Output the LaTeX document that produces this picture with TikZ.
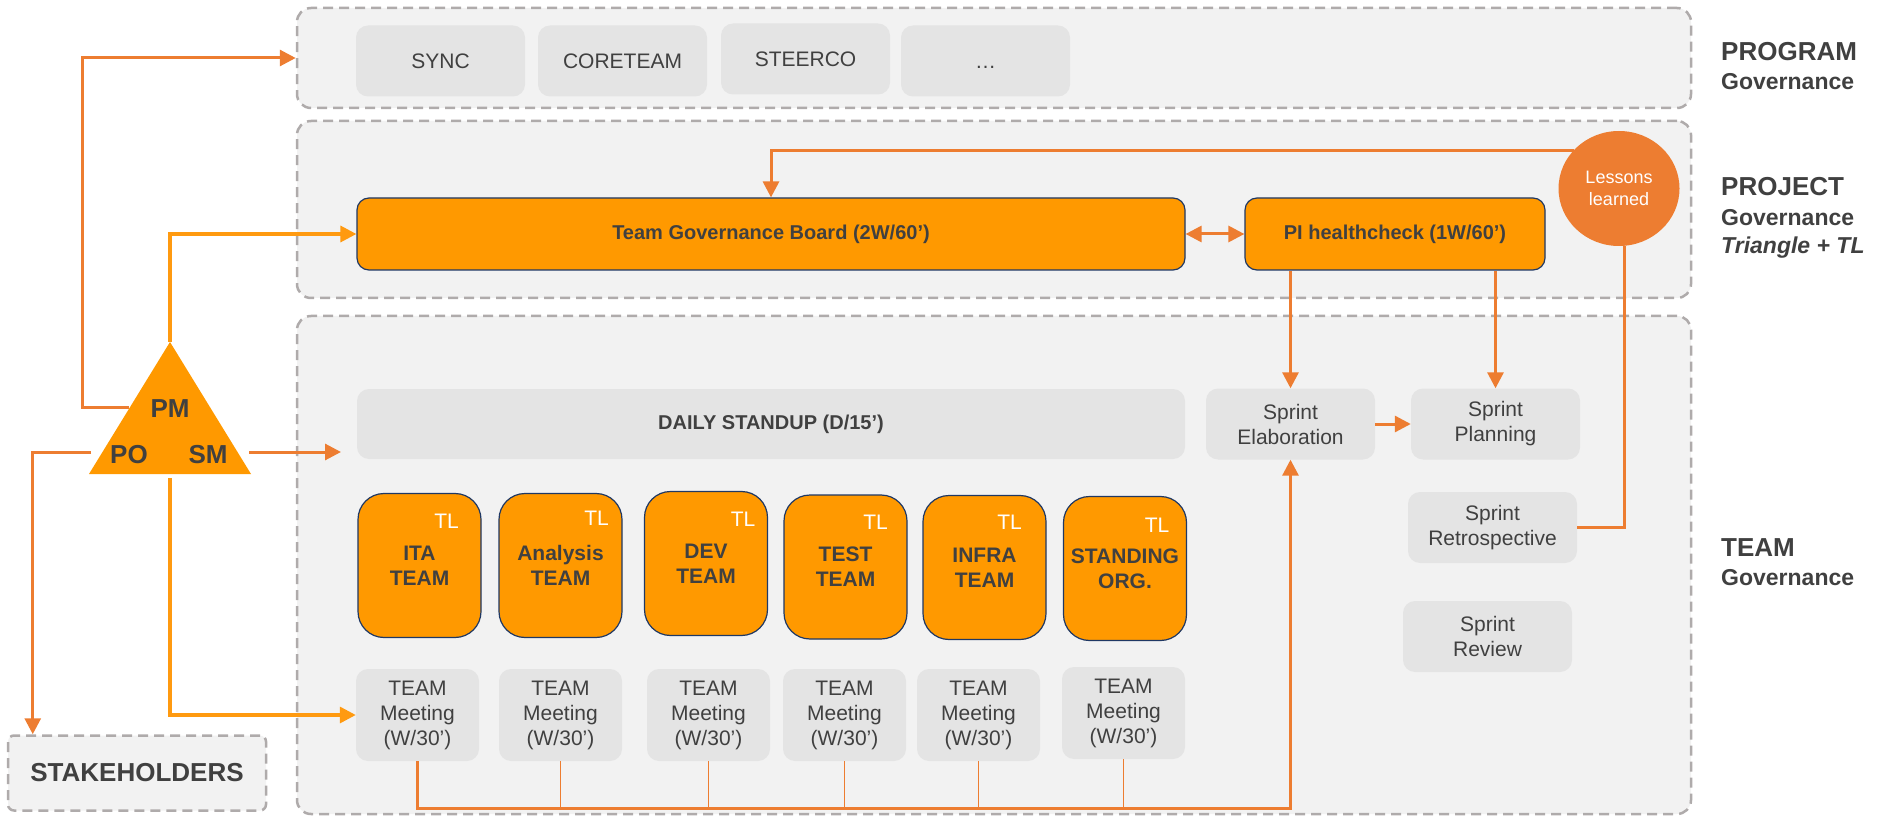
\documentclass[tikz,border=0pt]{standalone}
\usepackage{fontspec}
\setmainfont{Liberation Sans}
\usetikzlibrary{arrows.meta,calc,shapes.geometric}

\definecolor{zonefill}{HTML}{F2F2F2}
\definecolor{zoneline}{HTML}{AFABAB}
\definecolor{gfill}{HTML}{E4E4E4}
\definecolor{orng}{HTML}{FF9900}
\definecolor{navy}{HTML}{1F3864}
\definecolor{lineo}{HTML}{ED7D31}
\definecolor{lineb}{HTML}{FF9A10}
\definecolor{txt}{HTML}{404040}

\newcommand\fsz[2]{\fontsize{#1}{#2}\selectfont}

\tikzset{
  zone/.style={draw=zoneline, dash pattern=on 10pt off 6pt, line width=2.5pt,
    fill=zonefill, rounded corners=14pt, inner sep=0pt},
  gbox/.style={fill=gfill, rounded corners=12pt, text=txt, align=center,
    inner sep=0pt, font=\fsz{21}{25}},
  obox/.style={fill=orng, draw=navy, line width=1.2pt, rounded corners=12pt,
    text=txt, align=center, inner sep=0pt, font=\bfseries\fsz{20}{25}},
  card/.style={obox, rounded corners=26pt, minimum width=123, minimum height=144,
    font=\bfseries\fsz{21}{25}},
  meet/.style={gbox, minimum width=123, minimum height=92},
  sprint/.style={gbox, minimum width=169, minimum height=71},
  prog/.style={gbox, minimum width=169, minimum height=71},
  tl/.style={text=white, inner sep=0pt, font=\fsz{21}{25}},
  role/.style={text=txt, inner sep=0pt, anchor=base, font=\bfseries\fsz{26}{30}},
  head/.style={text=txt, inner sep=0pt, anchor=base west, font=\bfseries\fsz{26}{30}},
  sub/.style={text=txt, inner sep=0pt, anchor=base west, font=\bfseries\fsz{23}{27}},
  tip/.style={-{Triangle[length=16pt,width=16pt]}},
  arr/.style={draw=lineo, line width=3pt, tip},
  arrb/.style={draw=lineb, line width=3.3pt, tip},
  feed/.style={draw=lineo, line width=1.3pt},
}

\begin{document}
\begin{tikzpicture}[x=1pt,y=-1pt]
\useasboundingbox (0,0) rectangle (1877,818);

% governance zones
\node[zone, minimum width=1394, minimum height=100] (program) at (994,58) {};
\node[zone, minimum width=1394, minimum height=177] (project) at (994,209.5) {};
\node[zone, minimum width=1394, minimum height=498] (team) at (994,565) {};
\node[zone, rounded corners=6pt, minimum width=258, minimum height=75,
      text=txt, font=\bfseries\fsz{26}{30}] (stake) at (137,773) {STAKEHOLDERS};

% zone headings
\node[head] (h-prog) at (1721,61) {PROGRAM};
\node[sub]  (h-prog2) at (1721,90) {Governance};
\node[head] (h-proj) at (1721,196) {PROJECT};
\node[sub]  (h-proj2) at (1721,226) {Governance};
\node[sub, font=\bfseries\itshape\fsz{23}{27}] (h-proj3) at (1721,254) {Triangle + TL};
\node[head] (h-team) at (1721,556) {TEAM};
\node[sub]  (h-team2) at (1721,585) {Governance};

% program meetings
\node[prog] (sync) at (440.5,61) {SYNC};
\node[prog] (core) at (622.5,61) {CORETEAM};
\node[prog] (steer) at (805.5,59) {STEERCO};
\node[prog] (more) at (985.5,61) {\vphantom{SYNC}…};

% project level
\node[obox, minimum width=828, minimum height=72] (tgb) at (771,234) {Team Governance Board (2W/60’)};
\node[obox, minimum width=300, minimum height=72] (pi) at (1395,234) {PI healthcheck (1W/60’)};
\node[ellipse, fill=lineo, minimum width=121, minimum height=115, inner sep=0pt, text=white,
      align=center, font=\fsz{18}{22}] (lessons) at (1619,188.5) {Lessons\\learned};

% team level
\node[gbox, minimum width=828, minimum height=70, font=\bfseries\fsz{20}{25}] (daily) at (771,424) {DAILY STANDUP (D/15’)};
\node[sprint] (elab) at (1290.5,424) {Sprint\\Elaboration};
\node[sprint] (plan) at (1495.5,424) {Sprint\\Planning};
\node[sprint] (retro) at (1492.5,527.5) {Sprint\\Retrospective};
\node[sprint] (review) at (1487.5,636.5) {Sprint\\Review};

\node[card] (ita) at (419.5,565.5) {ITA\\TEAM};
\node[card] (ana) at (560.5,565.5) {Analysis\\TEAM};
\node[card] (dev) at (706,563.5) {DEV\\TEAM};
\node[card] (test) at (845.5,567) {TEST\\TEAM};
\node[card] (infra) at (984.5,567.5) {INFRA\\TEAM};
\node[card] (stand) at (1125,568.5) {STANDING\\ORG.};

\node[tl] (ita-tl) at ($(ita)+(27,-44)$) {TL};
\node[tl] (ana-tl) at ($(ana)+(36,-47)$) {TL};
\node[tl] (dev-tl) at ($(dev)+(37,-44)$) {TL};
\node[tl] (test-tl) at ($(test)+(30,-45)$) {TL};
\node[tl] (infra-tl) at ($(infra)+(25,-45)$) {TL};
\node[tl] (stand-tl) at ($(stand)+(32,-43)$) {TL};

\node[meet] (m1) at (417.5,715) {TEAM\\Meeting\\(W/30’)};
\node[meet] (m2) at (560.5,715) {TEAM\\Meeting\\(W/30’)};
\node[meet] (m3) at (708.5,715) {TEAM\\Meeting\\(W/30’)};
\node[meet] (m4) at (844.5,715) {TEAM\\Meeting\\(W/30’)};
\node[meet] (m5) at (978.5,715) {TEAM\\Meeting\\(W/30’)};
\node[meet] (m6) at (1123.5,713) {TEAM\\Meeting\\(W/30’)};

% leadership triangle
\coordinate (apex) at (170,342);
\coordinate (baseL) at (89,474);
\coordinate (baseR) at (251,474);
\fill[orng] (apex) -- (baseL) -- (baseR) -- cycle;
\node[role] (pm) at (170,417) {PM};
\node[role] (po) at (129,463) {PO};
\node[role] (sm) at (208,463) {SM};

% connector end points around the triangle
\coordinate (pmL) at (129,407);
\coordinate (pmTurn) at (82,58);
\coordinate (poL) at (91,452);
\coordinate (smR) at (249,452);
\coordinate (smEnd) at (341,452);
\coordinate (triB) at (170,478);
\coordinate (bus) at (0,808);

% connectors
\draw[arr] (pmL) -| (pmTurn) -- (program.west);
\draw[arrb] (apex) |- (tgb.west);
\draw[arr] (poL) -| ($(stake.north west)+(26,0)$);
\draw[arr] (smR) -- (smEnd);
\draw[arrb] (triB) |- (m1.west);

\draw[draw=lineo, line width=3pt, {Triangle[length=16pt,width=16pt]}-{Triangle[length=16pt,width=16pt]}]
  (tgb.east) -- (pi.west);
\draw[arr] (lessons.140) -| (tgb.north);
\draw[draw=lineo, line width=3pt] (retro.east) -| (lessons.-85);
\draw[arr] (elab.north |- pi.south) -- (elab.north);
\draw[arr] (plan.north |- pi.south) -- (plan.north);
\draw[arr] (elab.east) -- (plan.west);

\draw[arr] (m1.south) -- (m1.south |- bus) -| (elab.south);
\foreach \m in {m2,m3,m4,m5,m6}
  \draw[feed] (\m.south) -- (\m.south |- bus);
\end{tikzpicture}
\end{document}
